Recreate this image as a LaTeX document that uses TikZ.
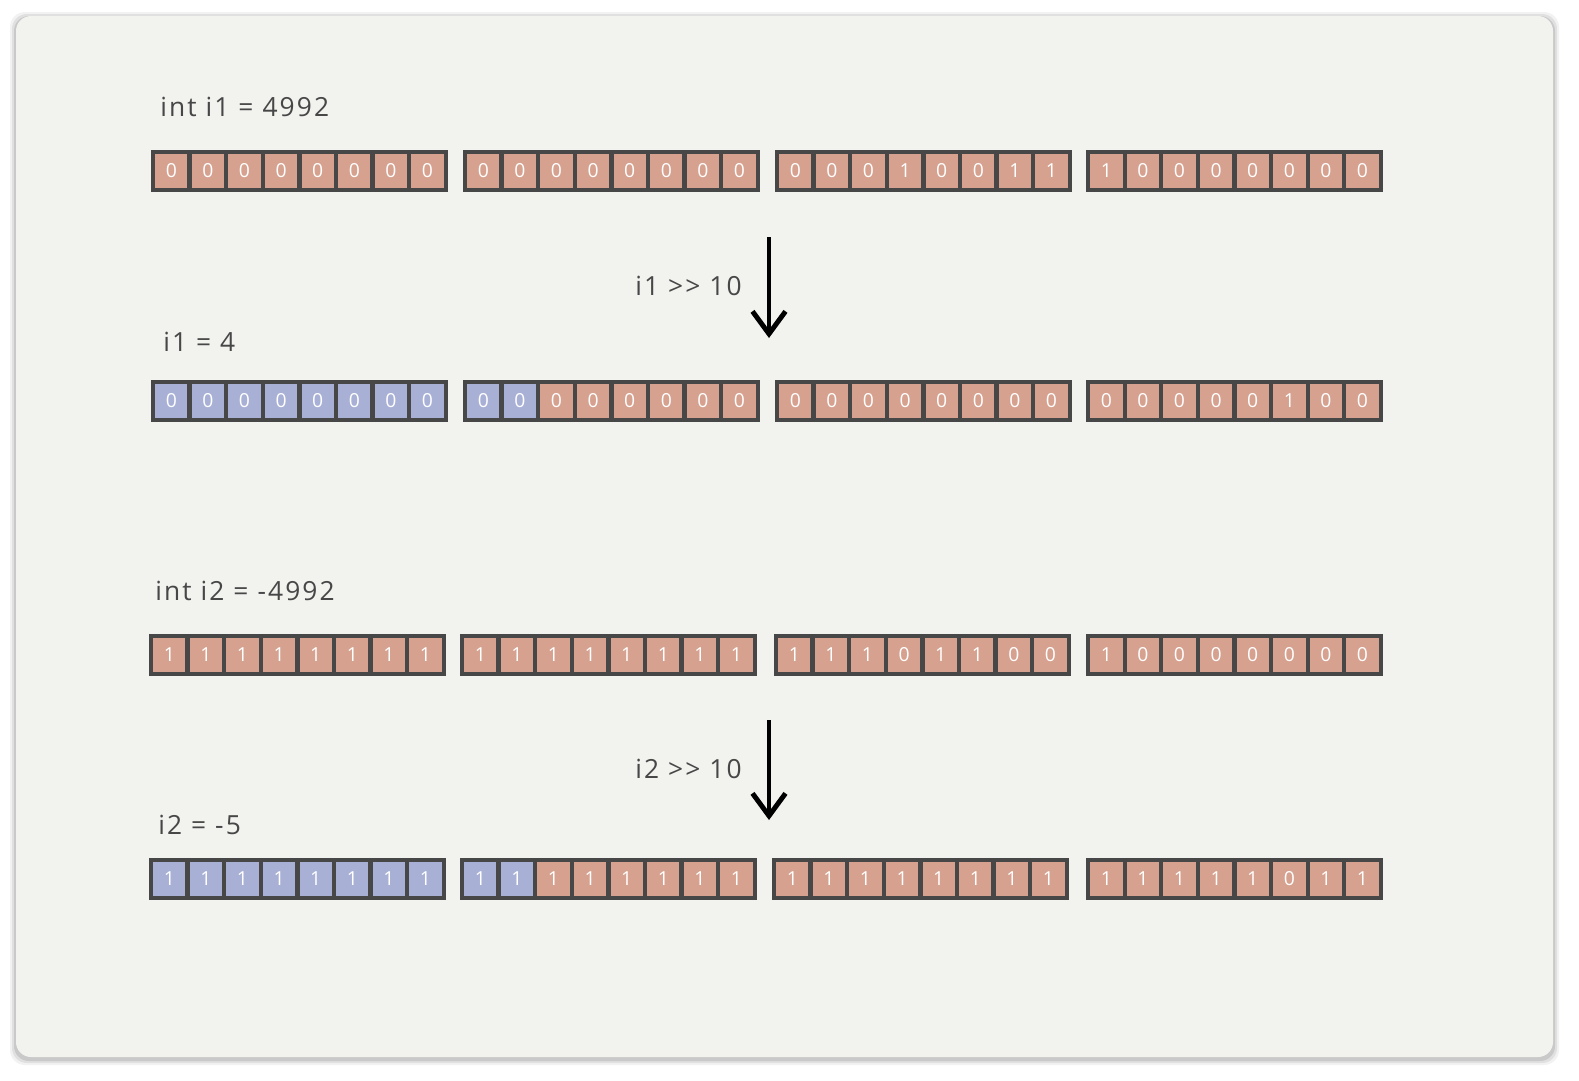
\documentclass[tikz,border=0pt]{standalone}
\usepackage{fontspec}
\setmainfont{Open Sans}[LetterSpace=8]
\usetikzlibrary{arrows.meta}

\definecolor{paper}{HTML}{F2F2EF}
\definecolor{ink}{HTML}{474747}
\definecolor{rose}{HTML}{D6A18F}
\definecolor{lilac}{HTML}{A9B0D5}

\begin{document}
\begin{tikzpicture}[x=0.02cm,y=-0.02cm]
    \tikzset{
        cell/.style={draw=ink, line width=2.4pt, fill=rose, minimum width=0.732cm,
            minimum height=0.76cm, inner sep=0pt, outer sep=0pt,
            text=white, font=\fontsize{11}{12}\selectfont},
        shifted/.style={fill=lilac},
        label/.style={anchor=base west, inner sep=0pt, text=ink, font=\fontsize{15}{18}\selectfont},
        shiftarrow/.style={-{Straight Barb[length=4.5mm,width=6.6mm]}, draw=black, line width=2.8pt}
    }

    % page and card
    \useasboundingbox (0,0) rectangle (1579,1080);
    \fill[white] (0,0) rectangle (1579,1080);
    \foreach \s/\o in {6/0.05,4/0.07,2/0.1}
        \fill[black, opacity=\o, rounded corners=0.3cm] (16-\s,16-\s+2) rectangle (1553+\s,1057+\s+2);
    \fill[paper, rounded corners=0.3cm] (16,16) rectangle (1553,1057);

    % labels
    \node[label] (t1) at (160,116) {int i1 = 4992};
    \node[label] (t2) at (163,351) {i1 = 4};
    \node[label] (t3) at (155,600) {int i2 = -4992};
    \node[label] (t4) at (158,834) {i2 = -5};
    \node[label, anchor=base east] (op1) at (742,295) {i1 {>}{>} 10};
    \node[label, anchor=base east] (op2) at (742,778) {i2 {>}{>} 10};

    % bit rows: row/y/number of shifted-in bits
    \foreach \r/\y/\nb/\groups in {%
        1/171/0/{153/{0,0,0,0,0,0,0,0}/0, 465/{0,0,0,0,0,0,0,0}/8, 777/{0,0,0,1,0,0,1,1}/16, 1088/{1,0,0,0,0,0,0,0}/24},
        2/401/10/{153/{0,0,0,0,0,0,0,0}/0, 465/{0,0,0,0,0,0,0,0}/8, 777/{0,0,0,0,0,0,0,0}/16, 1088/{0,0,0,0,0,1,0,0}/24},
        3/655/0/{151/{1,1,1,1,1,1,1,1}/0, 462/{1,1,1,1,1,1,1,1}/8, 776/{1,1,1,0,1,1,0,0}/16, 1088/{1,0,0,0,0,0,0,0}/24},
        4/879/10/{151/{1,1,1,1,1,1,1,1}/0, 462/{1,1,1,1,1,1,1,1}/8, 774/{1,1,1,1,1,1,1,1}/16, 1088/{1,1,1,1,1,0,1,1}/24}%
    }{
        \foreach \gx/\bits/\off in \groups {
            \foreach \b [count=\i] in \bits {
                \pgfmathtruncatemacro\n{\off+\i}
                \ifnum\n>\nb
                    \node[cell] (r\r c\n) at (\gx+18.3+36.6*\i-36.6,\y) {\b};
                \else
                    \node[cell, shifted] (r\r c\n) at (\gx+18.3+36.6*\i-36.6,\y) {\b};
                \fi
            }
        }
    }

    % shift arrows
    \coordinate (a1) at (769,237);
    \coordinate (b1) at (769,338);
    \coordinate (a2) at (769,720);
    \coordinate (b2) at (769,820);
    \draw[shiftarrow] (a1) -- (b1);
    \draw[shiftarrow] (a2) -- (b2);
\end{tikzpicture}
\end{document}
